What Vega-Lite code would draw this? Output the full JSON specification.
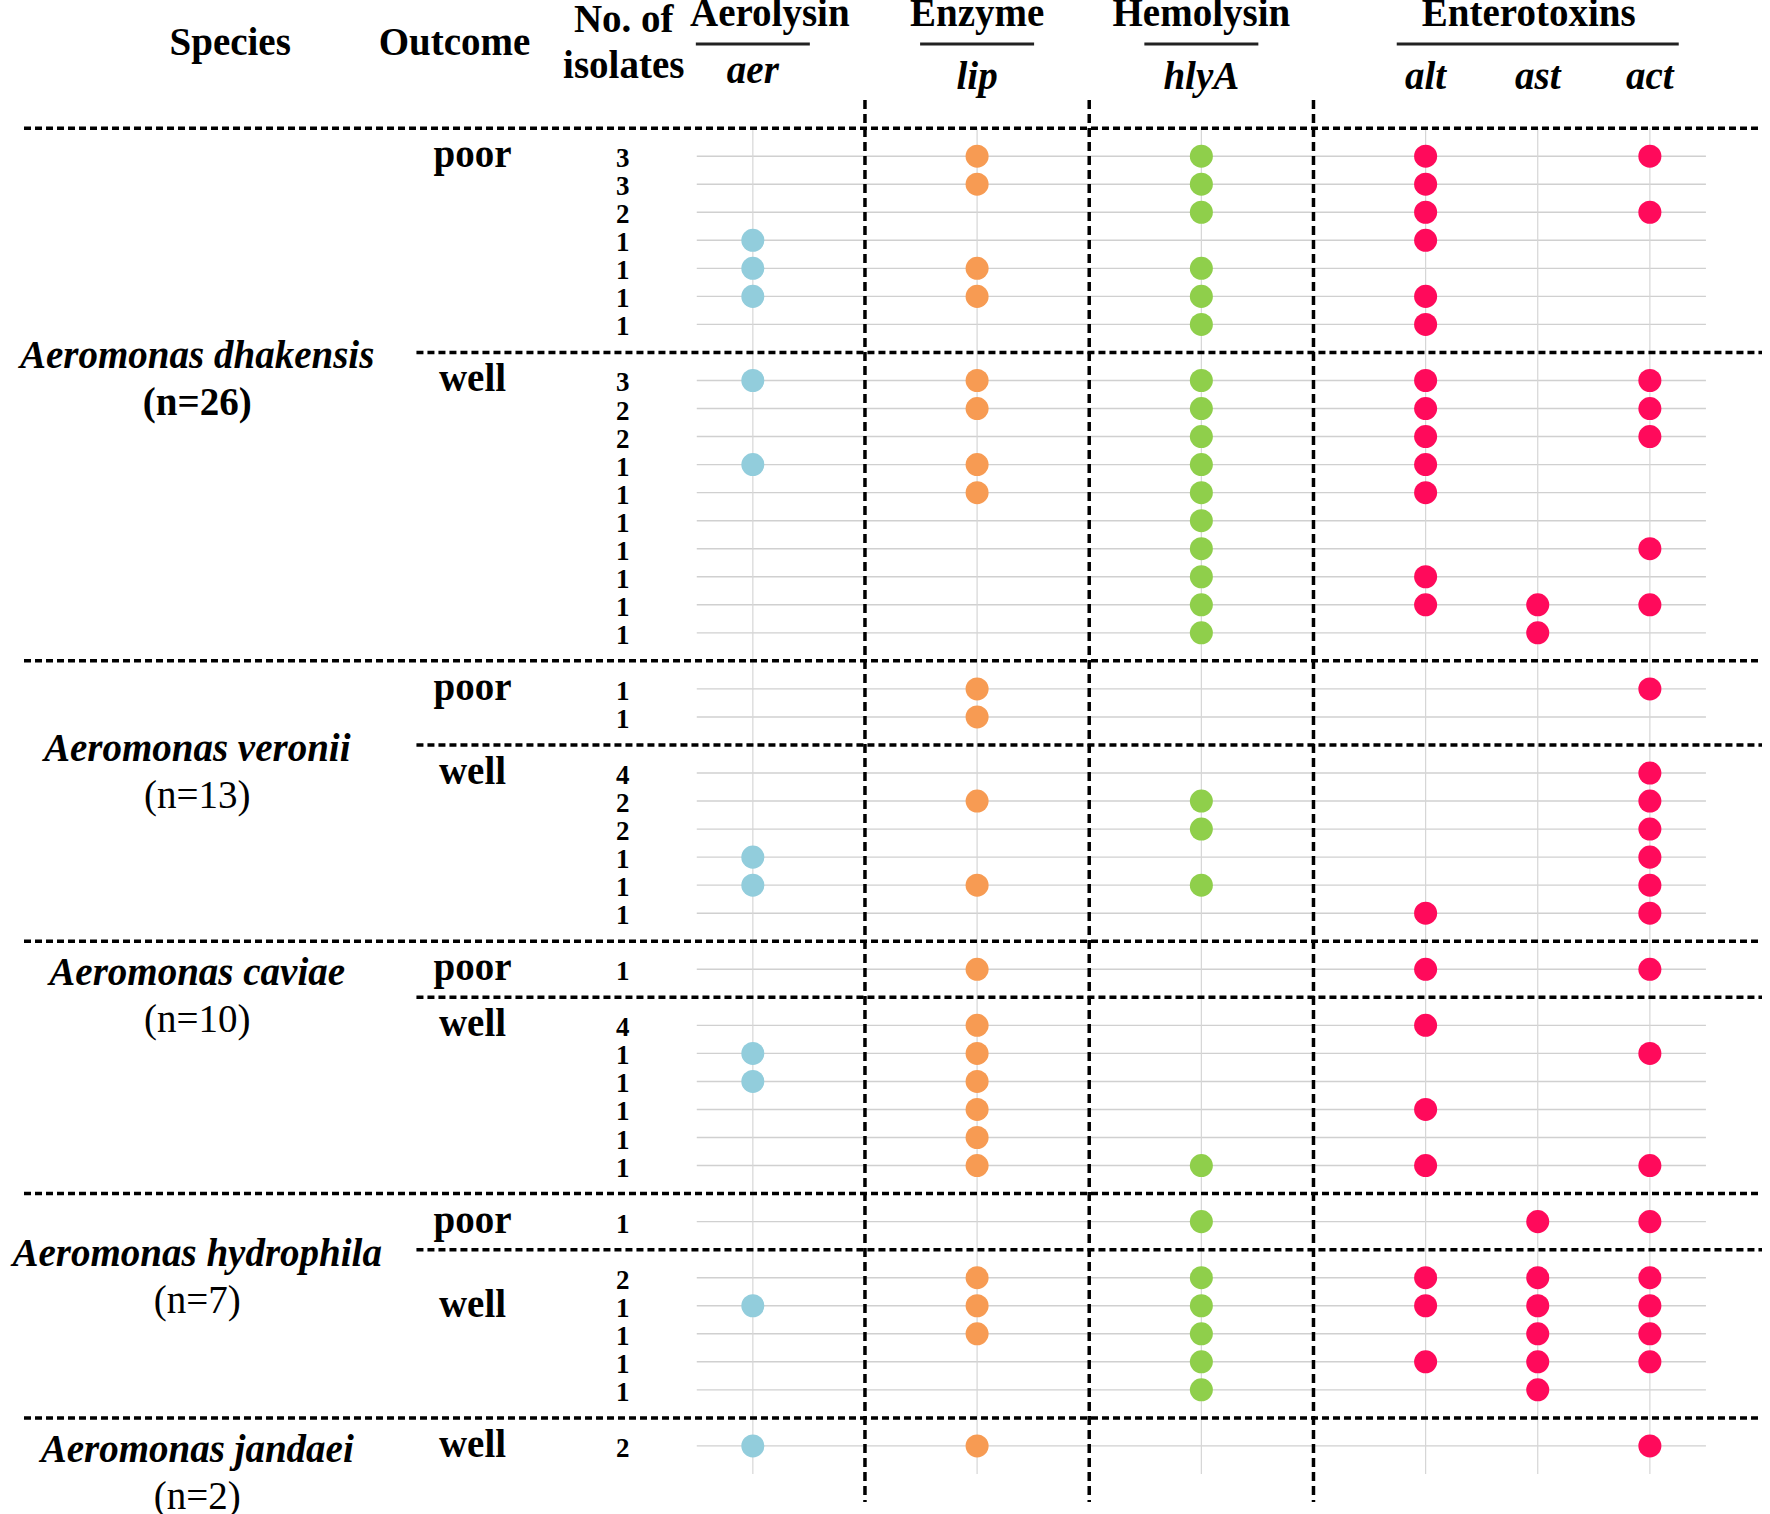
{
  "$schema": "https://vega.github.io/schema/vega-lite/v6.json",
  "width": 1738,
  "height": 1486,
  "autosize": {"type": "none"},
  "padding": {"left": 24, "top": 16, "right": 8, "bottom": 12},
  "background": "white",
  "config": {
    "view": {"stroke": null},
    "text": {"font": "Liberation Serif", "fontSize": 39, "fontWeight": "bold", "fill": "black", "baseline": "alphabetic", "align": "center"}
  },
  "datasets": {
    "rows": [
      {"row": "dp1", "count": 3, "aer": 0, "lip": 1, "hlyA": 1, "alt": 1, "ast": 0, "act": 1},
      {"row": "dp2", "count": 3, "aer": 0, "lip": 1, "hlyA": 1, "alt": 1, "ast": 0, "act": 0},
      {"row": "dp3", "count": 2, "aer": 0, "lip": 0, "hlyA": 1, "alt": 1, "ast": 0, "act": 1},
      {"row": "dp4", "count": 1, "aer": 1, "lip": 0, "hlyA": 0, "alt": 1, "ast": 0, "act": 0},
      {"row": "dp5", "count": 1, "aer": 1, "lip": 1, "hlyA": 1, "alt": 0, "ast": 0, "act": 0},
      {"row": "dp6", "count": 1, "aer": 1, "lip": 1, "hlyA": 1, "alt": 1, "ast": 0, "act": 0},
      {"row": "dp7", "count": 1, "aer": 0, "lip": 0, "hlyA": 1, "alt": 1, "ast": 0, "act": 0},
      {"row": "dw1", "count": 3, "aer": 1, "lip": 1, "hlyA": 1, "alt": 1, "ast": 0, "act": 1},
      {"row": "dw2", "count": 2, "aer": 0, "lip": 1, "hlyA": 1, "alt": 1, "ast": 0, "act": 1},
      {"row": "dw3", "count": 2, "aer": 0, "lip": 0, "hlyA": 1, "alt": 1, "ast": 0, "act": 1},
      {"row": "dw4", "count": 1, "aer": 1, "lip": 1, "hlyA": 1, "alt": 1, "ast": 0, "act": 0},
      {"row": "dw5", "count": 1, "aer": 0, "lip": 1, "hlyA": 1, "alt": 1, "ast": 0, "act": 0},
      {"row": "dw6", "count": 1, "aer": 0, "lip": 0, "hlyA": 1, "alt": 0, "ast": 0, "act": 0},
      {"row": "dw7", "count": 1, "aer": 0, "lip": 0, "hlyA": 1, "alt": 0, "ast": 0, "act": 1},
      {"row": "dw8", "count": 1, "aer": 0, "lip": 0, "hlyA": 1, "alt": 1, "ast": 0, "act": 0},
      {"row": "dw9", "count": 1, "aer": 0, "lip": 0, "hlyA": 1, "alt": 1, "ast": 1, "act": 1},
      {"row": "dw10", "count": 1, "aer": 0, "lip": 0, "hlyA": 1, "alt": 0, "ast": 1, "act": 0},
      {"row": "vp1", "count": 1, "aer": 0, "lip": 1, "hlyA": 0, "alt": 0, "ast": 0, "act": 1},
      {"row": "vp2", "count": 1, "aer": 0, "lip": 1, "hlyA": 0, "alt": 0, "ast": 0, "act": 0},
      {"row": "vw1", "count": 4, "aer": 0, "lip": 0, "hlyA": 0, "alt": 0, "ast": 0, "act": 1},
      {"row": "vw2", "count": 2, "aer": 0, "lip": 1, "hlyA": 1, "alt": 0, "ast": 0, "act": 1},
      {"row": "vw3", "count": 2, "aer": 0, "lip": 0, "hlyA": 1, "alt": 0, "ast": 0, "act": 1},
      {"row": "vw4", "count": 1, "aer": 1, "lip": 0, "hlyA": 0, "alt": 0, "ast": 0, "act": 1},
      {"row": "vw5", "count": 1, "aer": 1, "lip": 1, "hlyA": 1, "alt": 0, "ast": 0, "act": 1},
      {"row": "vw6", "count": 1, "aer": 0, "lip": 0, "hlyA": 0, "alt": 1, "ast": 0, "act": 1},
      {"row": "cp1", "count": 1, "aer": 0, "lip": 1, "hlyA": 0, "alt": 1, "ast": 0, "act": 1},
      {"row": "cw1", "count": 4, "aer": 0, "lip": 1, "hlyA": 0, "alt": 1, "ast": 0, "act": 0},
      {"row": "cw2", "count": 1, "aer": 1, "lip": 1, "hlyA": 0, "alt": 0, "ast": 0, "act": 1},
      {"row": "cw3", "count": 1, "aer": 1, "lip": 1, "hlyA": 0, "alt": 0, "ast": 0, "act": 0},
      {"row": "cw4", "count": 1, "aer": 0, "lip": 1, "hlyA": 0, "alt": 1, "ast": 0, "act": 0},
      {"row": "cw5", "count": 1, "aer": 0, "lip": 1, "hlyA": 0, "alt": 0, "ast": 0, "act": 0},
      {"row": "cw6", "count": 1, "aer": 0, "lip": 1, "hlyA": 1, "alt": 1, "ast": 0, "act": 1},
      {"row": "hp1", "count": 1, "aer": 0, "lip": 0, "hlyA": 1, "alt": 0, "ast": 1, "act": 1},
      {"row": "hw1", "count": 2, "aer": 0, "lip": 1, "hlyA": 1, "alt": 1, "ast": 1, "act": 1},
      {"row": "hw2", "count": 1, "aer": 1, "lip": 1, "hlyA": 1, "alt": 1, "ast": 1, "act": 1},
      {"row": "hw3", "count": 1, "aer": 0, "lip": 1, "hlyA": 1, "alt": 0, "ast": 1, "act": 1},
      {"row": "hw4", "count": 1, "aer": 0, "lip": 0, "hlyA": 1, "alt": 1, "ast": 1, "act": 1},
      {"row": "hw5", "count": 1, "aer": 0, "lip": 0, "hlyA": 1, "alt": 0, "ast": 1, "act": 0},
      {"row": "jw1", "count": 2, "aer": 1, "lip": 1, "hlyA": 0, "alt": 0, "ast": 0, "act": 1}
    ],
    "outcomes": [
      {"label": "poor", "row": "dp1"},
      {"label": "well", "row": "dw1"},
      {"label": "poor", "row": "vp1"},
      {"label": "well", "row": "vw1"},
      {"label": "poor", "row": "cp1"},
      {"label": "well", "row": "cw1"},
      {"label": "poor", "row": "hp1"},
      {"label": "well", "row": "hw2"},
      {"label": "well", "row": "jw1"}
    ],
    "species": [
      {"name": "Aeromonas dhakensis", "n": "(n=26)", "row": "s1"},
      {"name": "Aeromonas veronii", "n": "(n=13)", "row": "s3"},
      {"name": "Aeromonas caviae", "n": "(n=10)", "row": "cp1"},
      {"name": "Aeromonas hydrophila", "n": "(n=7)", "row": "s7"},
      {"name": "Aeromonas jandaei", "n": "(n=2)", "row": "jw1"}
    ],
    "separators": [
      {"row": "s0", "level": "species"},
      {"row": "s1", "level": "outcome"},
      {"row": "s2", "level": "species"},
      {"row": "s3", "level": "outcome"},
      {"row": "s4", "level": "species"},
      {"row": "s5", "level": "outcome"},
      {"row": "s6", "level": "species"},
      {"row": "s7", "level": "outcome"},
      {"row": "s8", "level": "species"}
    ],
    "genes": [{"gene": "aer"}, {"gene": "lip"}, {"gene": "hlyA"}, {"gene": "alt"}, {"gene": "ast"}, {"gene": "act"}],
    "dividers": [{"div": "v1"}, {"div": "v2"}, {"div": "v3"}]
  },
  "layer": [
    {
      "data": {"name": "rows"},
      "mark": {"type": "rule", "color": "#d0d0d0", "strokeWidth": 1.4},
      "encoding": {
        "y": {"field": "row", "type": "nominal", "axis": null,
          "scale": {"type": "point", "padding": 0, "domain": ["t1","t2","t3","t4","s0","dp1","dp2","dp3","dp4","dp5","dp6","dp7","s1","dw1","dw2","dw3","dw4","dw5","dw6","dw7","dw8","dw9","dw10","s2","vp1","vp2","s3","vw1","vw2","vw3","vw4","vw5","vw6","s4","cp1","s5","cw1","cw2","cw3","cw4","cw5","cw6","s6","hp1","s7","hw1","hw2","hw3","hw4","hw5","s8","jw1","b1","b2"]}},
        "x": {"datum": "gs", "type": "nominal", "axis": null,
          "scale": {"type": "point", "padding": 0, "domain": ["edge","x1","x2","Species","sph","x4","x5","os","Outcome","x6","x7","No","gs","aer","x8","v1","x9","lip","x10","v2","x11","hlyA","x12","v3","x13","alt","x14","ast","x15","act","ge","end"]}},
        "x2": {"datum": "ge"}
      }
    },
    {
      "data": {"name": "genes"},
      "mark": {"type": "rule", "color": "#d6d6d6", "strokeWidth": 1.2},
      "encoding": {
        "x": {"field": "gene", "type": "nominal", "axis": null},
        "y": {"datum": "s0", "type": "nominal", "axis": null},
        "y2": {"datum": "b1"}
      }
    },
    {
      "data": {"name": "dividers"},
      "mark": {"type": "rule", "color": "black", "strokeWidth": 3.5, "strokeDash": [9, 5]},
      "encoding": {
        "x": {"field": "div", "type": "nominal", "axis": null},
        "y": {"datum": "t4", "type": "nominal", "axis": null},
        "y2": {"datum": "b2"}
      }
    },
    {
      "data": {"name": "separators"},
      "transform": [{"filter": "datum.level == 'species'"}],
      "mark": {"type": "rule", "color": "black", "strokeWidth": 3.5, "strokeDash": [7, 4]},
      "encoding": {
        "y": {"field": "row", "type": "nominal", "axis": null},
        "x": {"datum": "edge", "type": "nominal", "axis": null},
        "x2": {"datum": "end"}
      }
    },
    {
      "data": {"name": "separators"},
      "transform": [{"filter": "datum.level == 'outcome'"}],
      "mark": {"type": "rule", "color": "black", "strokeWidth": 3.5, "strokeDash": [7, 4]},
      "encoding": {
        "y": {"field": "row", "type": "nominal", "axis": null},
        "x": {"datum": "os", "type": "nominal", "axis": null},
        "x2": {"datum": "end"}
      }
    },
    {
      "data": {"name": "rows"},
      "transform": [
        {"fold": ["aer", "lip", "hlyA", "alt", "ast", "act"], "as": ["gene", "present"]},
        {"filter": "datum.present == 1"}
      ],
      "mark": {"type": "circle", "size": 530, "opacity": 1},
      "encoding": {
        "x": {"field": "gene", "type": "nominal", "axis": null},
        "y": {"field": "row", "type": "nominal", "axis": null},
        "color": {"field": "gene", "type": "nominal", "legend": null,
          "scale": {"domain": ["aer", "lip", "hlyA", "alt", "ast", "act"], "range": ["#92CDDC", "#F79B53", "#8FCF4B", "#FF0A5B", "#FF0A5B", "#FF0A5B"]}}
      }
    },
    {
      "data": {"name": "rows"},
      "mark": {"type": "text", "fontSize": 27, "dx": -18, "dy": 11},
      "encoding": {
        "x": {"datum": "No", "type": "nominal", "axis": null},
        "y": {"field": "row", "type": "nominal", "axis": null},
        "text": {"field": "count", "type": "nominal"}
      }
    },
    {
      "data": {"name": "outcomes"},
      "mark": {"type": "text", "dy": 11},
      "encoding": {
        "x": {"datum": "Outcome", "type": "nominal", "axis": null},
        "y": {"field": "row", "type": "nominal", "axis": null},
        "text": {"field": "label", "type": "nominal"}
      }
    },
    {
      "data": {"name": "species"},
      "mark": {"type": "text", "fontStyle": "italic", "dx": 5, "dy": 16},
      "encoding": {
        "x": {"datum": "Species", "type": "nominal", "axis": null},
        "y": {"field": "row", "type": "nominal", "axis": null},
        "text": {"field": "name", "type": "nominal"}
      }
    },
    {
      "data": {"name": "species"},
      "transform": [{"filter": "datum.name == 'Aeromonas dhakensis'"}],
      "mark": {"type": "text", "dx": 5, "dy": 63},
      "encoding": {
        "x": {"datum": "Species", "type": "nominal", "axis": null},
        "y": {"field": "row", "type": "nominal", "axis": null},
        "text": {"field": "n", "type": "nominal"}
      }
    },
    {
      "data": {"name": "species"},
      "transform": [{"filter": "datum.name != 'Aeromonas dhakensis'"}],
      "mark": {"type": "text", "fontWeight": "normal", "dx": 5, "dy": 63},
      "encoding": {
        "x": {"datum": "Species", "type": "nominal", "axis": null},
        "y": {"field": "row", "type": "nominal", "axis": null},
        "text": {"field": "n", "type": "nominal"}
      }
    },
    {
      "data": {"values": [{"label": "No. of\nisolates"}]},
      "mark": {"type": "text", "dx": -17, "dy": 16, "lineBreak": "\n", "lineHeight": 46},
      "encoding": {
        "x": {"datum": "No", "type": "nominal", "axis": null},
        "y": {"datum": "t1", "type": "nominal", "axis": null},
        "text": {"field": "label", "type": "nominal"}
      }
    },
    {
      "data": {"values": [{"label": "Species"}]},
      "mark": {"type": "text", "dx": 38, "dy": 11},
      "encoding": {
        "x": {"datum": "Species", "type": "nominal", "axis": null},
        "y": {"datum": "t2", "type": "nominal", "axis": null},
        "text": {"field": "label", "type": "nominal"}
      }
    },
    {
      "data": {"values": [{"label": "Outcome"}]},
      "mark": {"type": "text", "dx": -18, "dy": 11},
      "encoding": {
        "x": {"datum": "Outcome", "type": "nominal", "axis": null},
        "y": {"datum": "t2", "type": "nominal", "axis": null},
        "text": {"field": "label", "type": "nominal"}
      }
    },
    {
      "data": {"values": [{"label": "Aerolysin"}]},
      "mark": {"type": "text", "dx": 17, "dy": 10},
      "encoding": {
        "x": {"datum": "aer", "type": "nominal", "axis": null},
        "y": {"datum": "t1", "type": "nominal", "axis": null},
        "text": {"field": "label", "type": "nominal"}
      }
    },
    {
      "data": {"values": [{"label": "Enzyme", "col": "lip"}, {"label": "Hemolysin", "col": "hlyA"}]},
      "mark": {"type": "text", "dy": 10},
      "encoding": {
        "x": {"field": "col", "type": "nominal", "axis": null},
        "y": {"datum": "t1", "type": "nominal", "axis": null},
        "text": {"field": "label", "type": "nominal"}
      }
    },
    {
      "data": {"values": [{"label": "Enterotoxins"}]},
      "mark": {"type": "text", "dx": -9, "dy": 10},
      "encoding": {
        "x": {"datum": "ast", "type": "nominal", "axis": null},
        "y": {"datum": "t1", "type": "nominal", "axis": null},
        "text": {"field": "label", "type": "nominal"}
      }
    },
    {
      "data": {"values": [{"col": "aer"}, {"col": "lip"}, {"col": "hlyA"}]},
      "mark": {"type": "tick", "orient": "horizontal", "size": 114, "thickness": 3, "color": "#222222", "opacity": 1},
      "encoding": {
        "x": {"field": "col", "type": "nominal", "axis": null},
        "y": {"datum": "t2", "type": "nominal", "axis": null}
      }
    },
    {
      "data": {"values": [{"col": "ast"}]},
      "mark": {"type": "tick", "orient": "horizontal", "size": 282, "thickness": 3, "color": "#222222", "opacity": 1},
      "encoding": {
        "x": {"field": "col", "type": "nominal", "axis": null},
        "y": {"datum": "t2", "type": "nominal", "axis": null}
      }
    },
    {
      "data": {"values": [{"g": "aer"}]},
      "mark": {"type": "text", "fontStyle": "italic", "dy": 11},
      "encoding": {
        "x": {"field": "g", "type": "nominal", "axis": null},
        "y": {"datum": "t3", "type": "nominal", "axis": null},
        "text": {"field": "g", "type": "nominal"}
      }
    },
    {
      "data": {"values": [{"g": "lip"}, {"g": "hlyA"}, {"g": "alt"}, {"g": "ast"}, {"g": "act"}]},
      "mark": {"type": "text", "fontStyle": "italic", "dy": 17},
      "encoding": {
        "x": {"field": "g", "type": "nominal", "axis": null},
        "y": {"datum": "t3", "type": "nominal", "axis": null},
        "text": {"field": "g", "type": "nominal"}
      }
    }
  ]
}
